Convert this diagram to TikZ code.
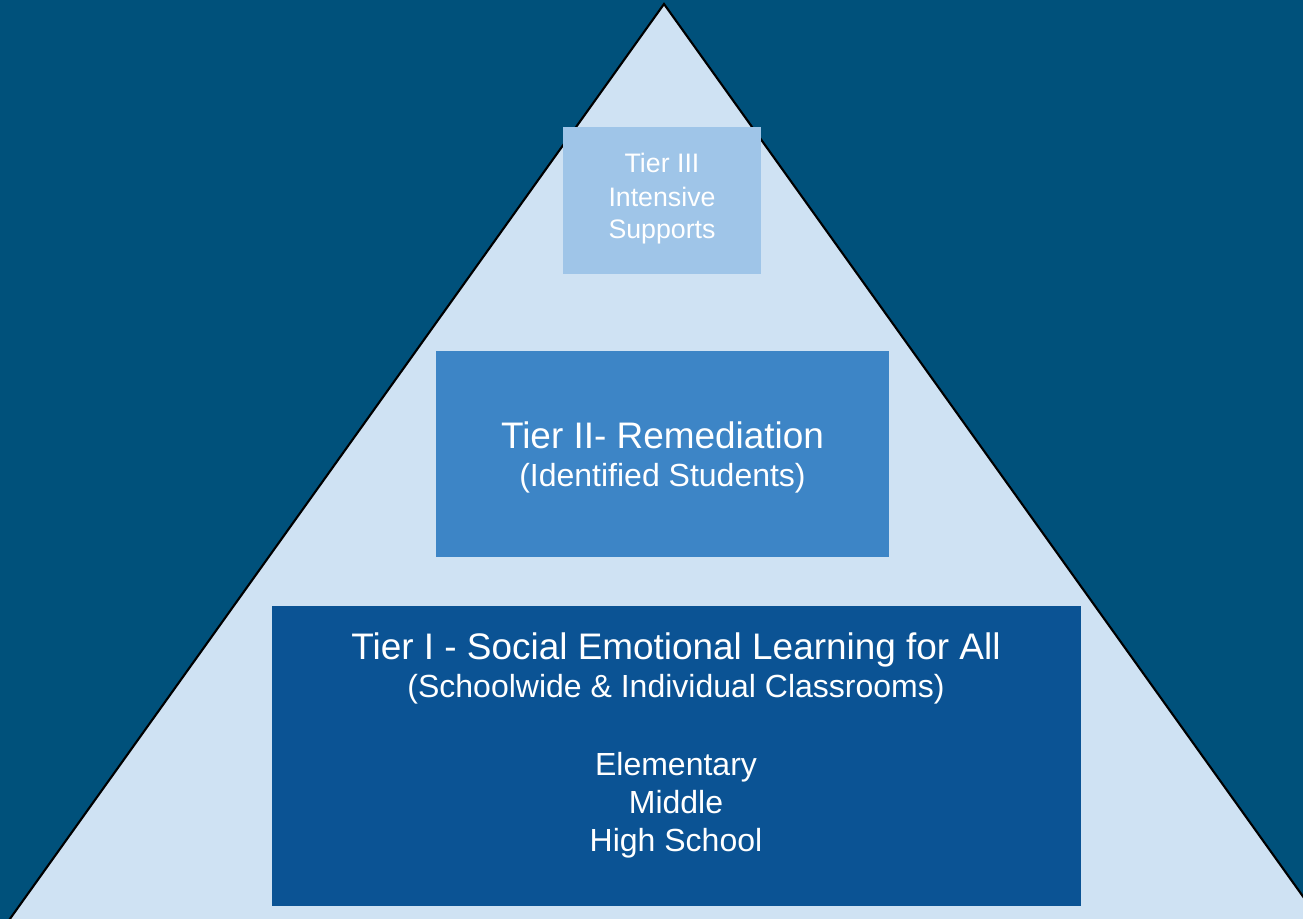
\documentclass[tikz,border=0pt]{standalone}
\usepackage{fontspec}
\setmainfont{Liberation Sans}
\definecolor{fundo}{RGB}{0,81,123}
\definecolor{piramide}{RGB}{207,226,243}
\definecolor{nivelum}{RGB}{11,83,148}
\definecolor{niveldois}{RGB}{61,133,198}
\definecolor{niveltres}{RGB}{159,197,232}
\tikzset{
  grande/.style={text=white,anchor=base,inner sep=0pt,font=\fontsize{10.5}{12}\selectfont},
  pequeno/.style={text=white,anchor=base,inner sep=0pt,font=\fontsize{9.1}{11}\selectfont},
  topo/.style={text=white,anchor=base,inner sep=0pt,font=\fontsize{7.6}{9}\selectfont}
}
\begin{document}
\begin{tikzpicture}[x=0.01cm,y=-0.01cm]
%fundo
  \useasboundingbox (0,0) rectangle (1303,919);
  \clip (0,0) rectangle (1303,919);
  \fill[fundo] (0,0) rectangle (1303,919);
%piramide
  \filldraw[fill=piramide,draw=black,line width=0.6pt] (664,4) -- (2,930) -- (1327,930) -- cycle;
%caixas
  \fill[niveltres] (563,127) rectangle (761,274);
  \fill[niveldois] (436,351) rectangle (889,557);
  \fill[nivelum] (272,606) rectangle (1081,906);
%rotulos
  \node[topo] (t3a) at (662,173) {Tier III};
  \node[topo] (t3b) at (662,207) {Intensive};
  \node[topo] (t3c) at (662,239) {Supports};
  \node[grande] (t2a) at (662.5,449) {Tier II- Remediation};
  \node[pequeno] (t2b) at (662.5,487) {(Identified Students)};
  \node[grande] (t1a) at (676,660) {Tier I - Social Emotional Learning for All};
  \node[pequeno] (t1b) at (676,698) {(Schoolwide \& Individual Classrooms)};
  \node[pequeno] (t1c) at (676,775) {Elementary};
  \node[pequeno] (t1d) at (676,813) {Middle};
  \node[pequeno] (t1e) at (676,851) {High School};
\end{tikzpicture}
\end{document}
